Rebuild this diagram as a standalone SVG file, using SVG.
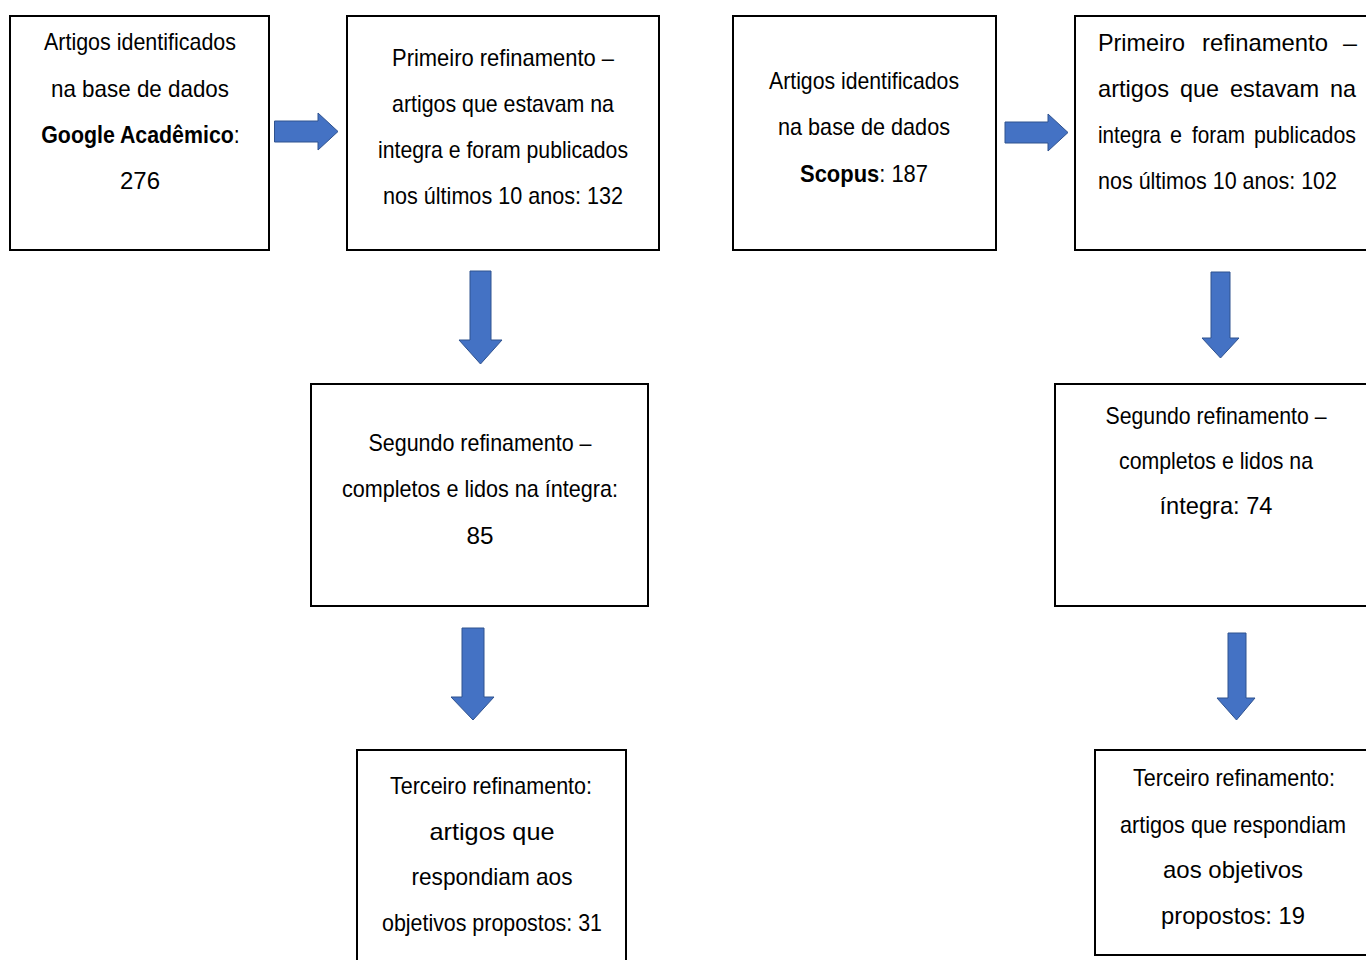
<svg xmlns="http://www.w3.org/2000/svg" width="1366" height="960" viewBox="0 0 1366 960">
<style>
.box{fill:#fff;stroke:#000;stroke-width:2}
.arr{fill:#4472C4;stroke:#2F528F;stroke-width:1}
text{font-family:"Liberation Sans",Arial,sans-serif;font-size:24px;fill:#000}
.c{text-anchor:middle}
.b{font-weight:bold}
</style>
<rect width="1366" height="960" fill="#fff"/>
<g id="connectors">
<path class="arr" d="M274.5,121 H318 V113 L338,131.5 L318,150 V142 H274.5 Z"/>
<path class="arr" d="M1005,122 H1048 V114 L1068,132.5 L1048,151 V143 H1005 Z"/>
<path class="arr" d="M470,271 H491 V340 H502 L480.5,364 L459,340 H470 Z"/>
<path class="arr" d="M462,628 H484 V697 H494 L473,720 L451,697 H462 Z"/>
<path class="arr" d="M1211,272 H1230 V338 H1239 L1220.5,358 L1202,338 H1211 Z"/>
<path class="arr" d="M1228,633 H1246 V698 H1255 L1236.5,720 L1217,698 H1228 Z"/>
</g>
<g id="n1">
<rect class="box" x="10" y="16" width="259" height="234"/>
<text class="c" x="140" y="50" textLength="192" lengthAdjust="spacingAndGlyphs">Artigos identificados</text>
<text class="c" x="140" y="97" textLength="178" lengthAdjust="spacingAndGlyphs">na base de dados</text>
<text class="c" transform="translate(140.5,143) scale(0.89,1)"><tspan class="b">Google Acadêmico</tspan>:</text>
<text class="c" x="140" y="189" textLength="40" lengthAdjust="spacingAndGlyphs">276</text>
</g>
<g id="n2">
<rect class="box" x="347" y="16" width="312" height="234"/>
<text class="c" x="503" y="66" textLength="222" lengthAdjust="spacingAndGlyphs">Primeiro refinamento –</text>
<text class="c" x="503" y="112" textLength="222" lengthAdjust="spacingAndGlyphs">artigos que estavam na</text>
<text class="c" x="503" y="158" textLength="250" lengthAdjust="spacingAndGlyphs">integra e foram publicados</text>
<text class="c" x="503" y="204" textLength="240" lengthAdjust="spacingAndGlyphs">nos últimos 10 anos: 132</text>
</g>
<g id="n3">
<rect class="box" x="311" y="384" width="337" height="222"/>
<text class="c" x="480" y="451" textLength="223" lengthAdjust="spacingAndGlyphs">Segundo refinamento –</text>
<text class="c" x="480" y="497" textLength="276" lengthAdjust="spacingAndGlyphs">completos e lidos na íntegra:</text>
<text class="c" x="480" y="544" textLength="27" lengthAdjust="spacingAndGlyphs">85</text>
</g>
<g id="n4">
<rect class="box" x="357" y="750" width="269" height="220"/>
<text class="c" x="491" y="794" textLength="202" lengthAdjust="spacingAndGlyphs">Terceiro refinamento:</text>
<text class="c" x="492" y="840" textLength="125" lengthAdjust="spacingAndGlyphs">artigos que</text>
<text class="c" x="492" y="885" textLength="161" lengthAdjust="spacingAndGlyphs">respondiam aos</text>
<text class="c" x="492" y="931" textLength="220" lengthAdjust="spacingAndGlyphs">objetivos propostos: 31</text>
</g>
<g id="n5">
<rect class="box" x="733" y="16" width="263" height="234"/>
<text class="c" x="864" y="89" textLength="190" lengthAdjust="spacingAndGlyphs">Artigos identificados</text>
<text class="c" x="864" y="135" textLength="172" lengthAdjust="spacingAndGlyphs">na base de dados</text>
<text class="c" transform="translate(864,182) scale(0.914,1)"><tspan class="b">Scopus</tspan>: 187</text>
</g>
<g id="n6">
<rect class="box" x="1075" y="16" width="300" height="234"/>
<text x="1098" y="51" textLength="87" lengthAdjust="spacingAndGlyphs">Primeiro</text>
<text x="1202" y="51" textLength="126" lengthAdjust="spacingAndGlyphs">refinamento</text>
<text x="1343" y="51" textLength="14" lengthAdjust="spacingAndGlyphs">–</text>
<text x="1098" y="97" textLength="71" lengthAdjust="spacingAndGlyphs">artigos</text>
<text x="1180" y="97" textLength="39" lengthAdjust="spacingAndGlyphs">que</text>
<text x="1230" y="97" textLength="89" lengthAdjust="spacingAndGlyphs">estavam</text>
<text x="1330" y="97" textLength="26" lengthAdjust="spacingAndGlyphs">na</text>
<text x="1098" y="143" textLength="63" lengthAdjust="spacingAndGlyphs">integra</text>
<text x="1170" y="143" textLength="12" lengthAdjust="spacingAndGlyphs">e</text>
<text x="1192" y="143" textLength="53" lengthAdjust="spacingAndGlyphs">foram</text>
<text x="1254" y="143" textLength="102" lengthAdjust="spacingAndGlyphs">publicados</text>
<text x="1098" y="189" textLength="239" lengthAdjust="spacingAndGlyphs">nos últimos 10 anos: 102</text>
</g>
<g id="n7">
<rect class="box" x="1055" y="384" width="320" height="222"/>
<text class="c" x="1216" y="424" textLength="221" lengthAdjust="spacingAndGlyphs">Segundo refinamento –</text>
<text class="c" x="1216" y="469" textLength="194" lengthAdjust="spacingAndGlyphs">completos e lidos na</text>
<text class="c" x="1216" y="514" textLength="113" lengthAdjust="spacingAndGlyphs">íntegra: 74</text>
</g>
<g id="n8">
<rect class="box" x="1095" y="750" width="280" height="205"/>
<text class="c" x="1234" y="786" textLength="202" lengthAdjust="spacingAndGlyphs">Terceiro refinamento:</text>
<text class="c" x="1233" y="833" textLength="226" lengthAdjust="spacingAndGlyphs">artigos que respondiam</text>
<text class="c" x="1233" y="878" textLength="140" lengthAdjust="spacingAndGlyphs">aos objetivos</text>
<text class="c" x="1233" y="924" textLength="144" lengthAdjust="spacingAndGlyphs">propostos: 19</text>
</g>
</svg>
